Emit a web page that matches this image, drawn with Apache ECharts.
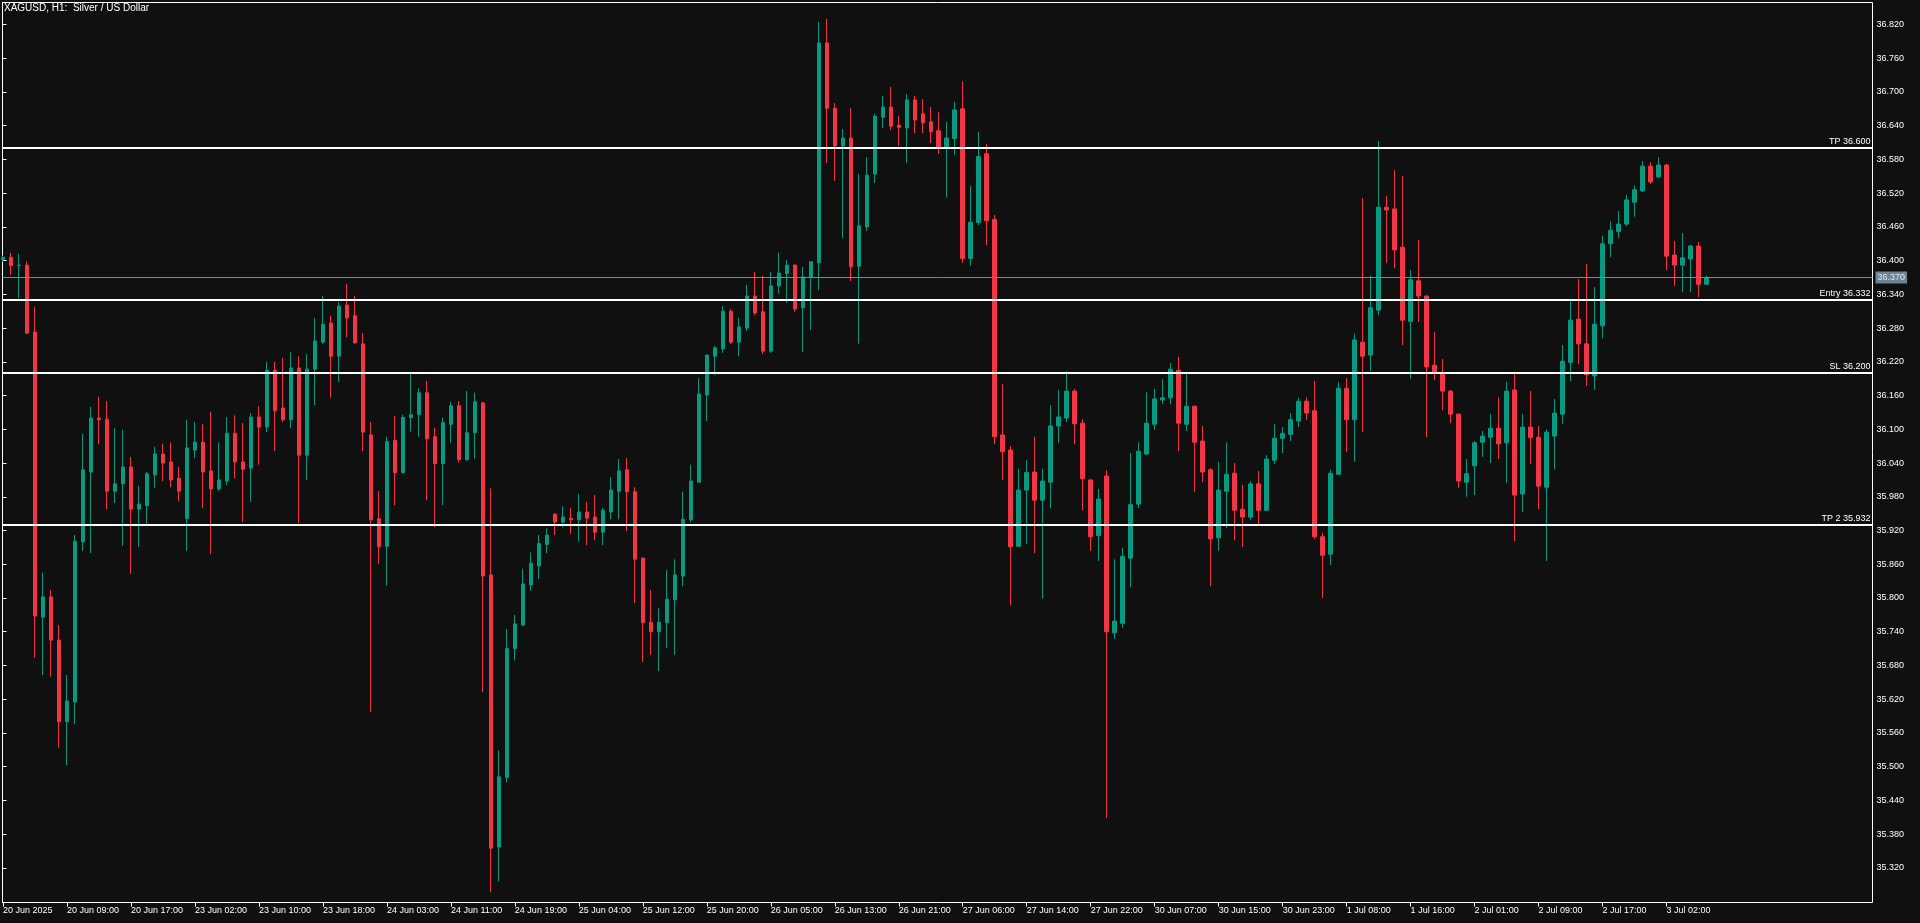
<!DOCTYPE html>
<html><head><meta charset="utf-8">
<script src="https://cdn.jsdelivr.net/npm/echarts@6/dist/echarts.min.js"></script>
<style>html,body{margin:0;padding:0;background:#101010;overflow:hidden}#c{width:1920px;height:923px}</style>
</head><body><div id="c"></div><script>
const chartTitle = 'XAGUSD, H1:  Silver / US Dollar';
const days = ['20 Jun','23 Jun','24 Jun','25 Jun','26 Jun','27 Jun','30 Jun','1 Jul','2 Jul','3 Jul'];
const hours = ['01','02','03','04','05','06','07','08','09','10','11','12','13','14','15','16','17','18','19','20','21','22','23'];
const xTickLabels = ['20 Jun 2025','20 Jun 09:00','20 Jun 17:00','23 Jun 02:00','23 Jun 10:00','23 Jun 18:00','24 Jun 03:00','24 Jun 11:00','24 Jun 19:00','25 Jun 04:00','25 Jun 12:00','25 Jun 20:00','26 Jun 05:00','26 Jun 13:00','26 Jun 21:00','27 Jun 06:00','27 Jun 14:00','27 Jun 22:00','30 Jun 07:00','30 Jun 15:00','30 Jun 23:00','1 Jul 08:00','1 Jul 16:00','2 Jul 01:00','2 Jul 09:00','2 Jul 17:00','3 Jul 02:00'];
const yTicks = [35.32,35.38,35.44,35.50,35.56,35.62,35.68,35.74,35.80,35.86,35.92,35.98,36.04,36.10,36.16,36.22,36.28,36.34,36.40,36.46,36.52,36.58,36.64,36.70,36.76,36.82];

const opens = [36.402,36.406,36.391,36.392,36.273,35.766,35.802,35.725,35.580,35.615,35.900,36.024,36.120,36.118,35.990,36.003,36.033,35.958,35.964,36.019,36.056,36.042,36.013,35.941,
36.063,36.077,36.026,35.994,36.008,36.093,36.042,36.031,36.122,36.104,36.205,36.138,36.117,36.209,36.054,36.207,36.255,36.289,36.230,36.321,36.302,36.252,36.090,35.941,
35.892,36.080,36.023,36.121,36.126,36.165,36.087,36.039,36.109,36.142,36.046,36.094,36.147,35.841,35.357,35.481,35.710,35.752,35.823,35.857,35.895,35.949,35.935,35.942,
35.939,35.953,35.944,35.917,35.953,35.990,36.028,35.989,35.871,35.757,35.740,35.756,35.797,35.839,35.939,36.006,36.161,36.230,36.243,36.310,36.255,36.280,36.337,36.309,
36.239,36.355,36.377,36.392,36.316,36.371,36.396,36.787,36.671,36.604,36.618,36.390,36.460,36.554,36.655,36.673,36.641,36.636,36.686,36.661,36.647,36.631,36.603,36.617,
36.670,36.404,36.468,36.590,36.473,36.090,36.063,35.892,35.992,36.024,35.974,36.006,36.106,36.120,36.168,36.111,36.010,35.911,36.017,35.738,35.755,35.871,35.967,36.056,
36.109,36.152,36.156,36.205,36.109,36.141,36.079,36.028,35.907,35.990,36.022,35.958,35.944,36.003,35.956,36.045,36.084,36.091,36.115,36.150,36.133,35.909,35.878,36.020,
36.173,36.117,36.255,36.232,36.312,36.495,36.492,36.424,36.292,36.364,36.337,36.214,36.200,36.168,36.127,36.006,36.035,36.077,36.086,36.102,36.076,36.170,35.985,36.104,
36.086,35.997,36.088,36.127,36.219,36.296,36.252,36.195,36.284,36.430,36.452,36.465,36.504,36.524,36.568,36.549,36.570,36.410,36.392,36.403,36.426,36.358];
const highs = [36.409,36.414,36.412,36.398,36.318,35.845,35.814,35.752,35.663,35.912,36.092,36.140,36.158,36.150,36.102,36.099,36.051,35.999,36.024,36.069,36.074,36.077,36.033,36.117,
36.113,36.109,36.131,36.077,36.122,36.125,36.111,36.129,36.141,36.220,36.220,36.227,36.237,36.230,36.234,36.298,36.337,36.302,36.326,36.358,36.337,36.271,36.113,35.990,
36.087,36.124,36.126,36.202,36.173,36.186,36.103,36.121,36.149,36.150,36.168,36.165,36.149,35.995,35.529,35.745,35.770,35.852,35.881,35.912,35.924,35.951,35.963,35.960,
35.985,35.971,35.983,35.960,36.015,36.047,36.049,35.997,35.872,35.814,35.782,35.850,35.869,35.989,36.037,36.191,36.232,36.248,36.319,36.314,36.298,36.357,36.380,36.373,
36.380,36.414,36.401,36.393,36.389,36.399,36.824,36.830,36.680,36.634,36.671,36.554,36.584,36.661,36.693,36.709,36.657,36.696,36.693,36.687,36.673,36.664,36.647,36.682,
36.719,36.533,36.629,36.607,36.481,36.180,36.070,36.030,36.045,36.087,36.030,36.143,36.170,36.204,36.172,36.118,36.011,35.994,36.027,35.869,35.889,36.058,36.077,36.166,
36.172,36.189,36.218,36.229,36.198,36.142,36.106,36.031,36.042,36.077,36.040,36.001,36.008,36.026,36.054,36.109,36.104,36.129,36.156,36.157,36.186,35.916,36.028,36.184,
36.191,36.270,36.511,36.373,36.613,36.515,36.561,36.550,36.383,36.437,36.338,36.273,36.225,36.170,36.128,36.047,36.079,36.097,36.127,36.157,36.184,36.198,36.127,36.168,
36.106,36.100,36.154,36.250,36.332,36.367,36.394,36.353,36.444,36.470,36.488,36.517,36.534,36.577,36.575,36.584,36.572,36.435,36.449,36.428,36.433,36.373];
const lows = [36.398,36.375,36.333,36.270,35.694,35.663,35.660,35.534,35.503,35.576,35.884,35.880,36.074,35.958,35.969,35.893,35.843,35.891,35.932,35.996,36.008,35.997,35.972,35.884,
36.049,35.960,35.878,35.990,36.001,36.013,35.935,35.971,36.037,36.095,36.061,36.113,36.102,35.933,36.010,36.143,36.252,36.156,36.184,36.264,36.252,36.061,35.597,35.861,
35.822,35.965,36.021,36.096,36.087,35.974,35.926,35.965,36.076,36.041,36.044,36.048,35.633,35.277,35.296,35.472,35.689,35.750,35.813,35.834,35.880,35.912,35.926,35.914,
35.900,35.894,35.903,35.894,35.940,35.940,35.919,35.791,35.686,35.699,35.670,35.711,35.699,35.821,35.935,36.006,36.115,36.197,36.236,36.252,36.230,36.275,36.303,36.234,
36.236,36.341,36.325,36.309,36.237,36.277,36.348,36.574,36.542,36.440,36.364,36.252,36.453,36.538,36.636,36.632,36.604,36.574,36.627,36.627,36.609,36.590,36.512,36.588,
36.396,36.391,36.463,36.428,36.074,36.010,35.787,35.891,35.896,35.880,35.799,35.960,36.076,36.113,36.074,35.956,35.884,35.866,35.409,35.727,35.747,35.819,35.960,36.054,
36.099,36.145,36.145,36.061,36.097,35.989,36.006,35.821,35.884,35.924,35.903,35.891,35.939,35.928,35.955,36.038,36.058,36.079,36.104,36.117,35.905,35.800,35.859,36.020,
36.060,36.042,36.095,36.204,36.303,36.396,36.387,36.250,36.190,36.291,36.086,36.188,36.134,36.111,35.996,35.980,35.983,36.051,36.040,36.047,36.005,35.901,35.953,36.038,
35.958,35.866,36.029,36.109,36.186,36.216,36.177,36.170,36.262,36.406,36.440,36.462,36.478,36.522,36.536,36.547,36.383,36.355,36.344,36.344,36.335,36.358];
const closes = [36.406,36.391,36.392,36.271,35.768,35.802,35.725,35.580,35.617,35.901,36.028,36.120,36.117,35.990,36.003,36.033,35.958,35.967,36.021,36.056,36.040,36.010,35.990,36.067,
36.077,36.024,35.994,36.010,36.093,36.042,36.029,36.122,36.104,36.205,36.133,36.117,36.209,36.054,36.207,36.257,36.287,36.230,36.319,36.298,36.254,36.095,35.939,35.891,
36.078,36.023,36.121,36.126,36.165,36.083,36.039,36.112,36.142,36.046,36.094,36.149,35.839,35.355,35.482,35.710,35.754,35.825,35.862,35.897,35.912,35.935,35.944,35.939,
35.953,35.942,35.917,35.956,35.992,36.026,35.989,35.869,35.756,35.740,35.757,35.798,35.841,35.940,36.008,36.163,36.232,36.245,36.310,36.255,36.282,36.337,36.307,36.239,
36.355,36.378,36.392,36.314,36.371,36.398,36.787,36.671,36.604,36.618,36.389,36.462,36.552,36.657,36.673,36.639,36.637,36.686,36.650,36.645,36.629,36.602,36.618,36.668,
36.404,36.468,36.585,36.471,36.087,36.060,35.891,35.992,36.023,35.974,36.008,36.106,36.122,36.168,36.110,36.012,35.909,35.976,35.740,35.759,35.874,35.966,36.061,36.111,
36.154,36.156,36.207,36.111,36.141,36.077,36.024,35.905,35.992,36.020,35.956,35.944,36.003,35.956,36.047,36.084,36.093,36.117,36.150,36.129,35.909,35.876,36.022,36.173,
36.117,36.259,36.230,36.316,36.495,36.490,36.419,36.294,36.366,36.337,36.211,36.202,36.168,36.127,36.008,36.021,36.076,36.088,36.102,36.074,36.168,35.983,36.104,36.085,
35.999,36.095,36.129,36.221,36.294,36.252,36.197,36.287,36.430,36.454,36.465,36.508,36.526,36.568,36.540,36.570,36.408,36.392,36.405,36.426,36.358,36.370];

const levelNames = ['TP', 'Entry', 'SL', 'TP 2'];
const levelValues = [36.600, 36.332, 36.200, 35.932];
const currentPrice = 36.370;

// ---- build ----
const categories = [];
days.forEach(d => hours.forEach(h => categories.push(d + ' ' + h + ':00')));
while (categories.length < 234) categories.push('');
const candleData = opens.map((o, i) => [o, closes[i], lows[i], highs[i]]);

const FONT = '"Liberation Sans", Arial, sans-serif';
const Y_MAX = 36.85905, Y_MIN = 35.25849;
const TOP = 2.5, BOTTOM = 20.5;
const showTick = (idx) => idx % 8 === 0 && idx / 8 < xTickLabels.length;

const chart = echarts.init(document.getElementById('c'), null, {renderer: 'canvas'});
chart.setOption({
  backgroundColor: '#101010',
  animation: false,
  textStyle: {fontFamily: FONT},
  title: {text: chartTitle, left: 4, top: 3, padding: 0,
    textStyle: {color: '#ffffff', fontSize: 10, fontWeight: 'normal', fontFamily: FONT}},
  grid: [
    {left: 2.5, top: TOP, bottom: BOTTOM, width: 1864, show: false},
    {left: 2.5, top: TOP, right: 47.5, bottom: BOTTOM, show: true, borderColor: '#ffffff', borderWidth: 1, backgroundColor: 'transparent'}
  ],
  xAxis: [
    {type: 'category', gridIndex: 0, data: categories, boundaryGap: false,
      axisLine: {show: false},
      axisTick: {show: true, interval: (i) => showTick(i), length: 4, lineStyle: {color: '#ffffff'}},
      axisLabel: {show: true, interval: (i) => showTick(i), formatter: (v, i) => xTickLabels[i / 8] || '',
        color: '#ffffff', fontSize: 9, fontFamily: FONT, align: 'left', margin: 4, hideOverlap: false},
      splitLine: {show: false}},
    {type: 'value', gridIndex: 1, min: 0, max: 1, show: false}
  ],
  yAxis: [
    {type: 'value', gridIndex: 0, min: Y_MIN, max: Y_MAX, show: false, splitLine: {show: false}},
    {type: 'value', gridIndex: 1, min: Y_MIN, max: Y_MAX, position: 'right',
      axisLine: {show: true, lineStyle: {color: '#ffffff', width: 1}},
      axisTick: {show: true, customValues: yTicks, length: 4, lineStyle: {color: '#ffffff'}},
      axisLabel: {show: true, customValues: yTicks, formatter: (v) => Number(v).toFixed(3),
        color: '#ffffff', fontSize: 9, fontFamily: FONT, margin: 4},
      splitLine: {show: false}}
  ],
  series: [
    {type: 'candlestick', xAxisIndex: 0, yAxisIndex: 0, data: candleData, barWidth: 4, clip: true,
      itemStyle: {color: '#089981', color0: '#f23645', borderColor: '#089981', borderColor0: '#f23645', borderWidth: 1},
      emphasis: {disabled: true}},
    {type: 'line', xAxisIndex: 1, yAxisIndex: 1, data: [[0.5, currentPrice]], showSymbol: false, silent: true, z: 5,
      lineStyle: {opacity: 0},
      markLine: {symbol: ['none', 'none'], silent: true, animation: false,
        data: levelValues.map((v, i) => ({
          yAxis: v,
          lineStyle: {color: '#ffffff', width: 2, type: 'solid'},
          label: {show: true, position: 'insideEndTop', formatter: levelNames[i] + ' ' + v.toFixed(3),
            color: '#ffffff', fontSize: 9, fontFamily: FONT, distance: [2, 2]}
        })).concat([{
          yAxis: currentPrice,
          lineStyle: {color: '#778899', width: 1, type: 'solid'},
          label: {show: true, position: 'end', formatter: currentPrice.toFixed(3),
            backgroundColor: '#6f8396', color: '#dfe6ee', fontSize: 9, fontFamily: FONT,
            padding: [2, 2, 1, 2], distance: 3}
        }])
      }}
  ]
});
</script></body></html>
